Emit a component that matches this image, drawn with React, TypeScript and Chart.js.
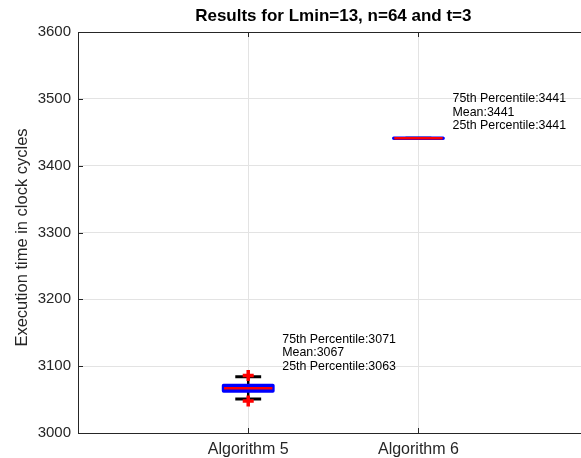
import React, { useEffect, useRef } from 'react';
import { Chart, registerables } from 'chart.js';

Chart.register(...registerables);

const TITLE = 'Results for Lmin=13, n=64 and t=3';
const Y_TITLE = 'Execution time in clock cycles';
const categories = ['Algorithm 5', 'Algorithm 6'];
const positions = [1, 2];
const q1 = [3063, 3441];
const medians = [3067, 3441];
const q3 = [3071, 3441];
const whiskerLow = [3051, 3441];
const whiskerHigh = [3084, 3441];
const means = [3067, 3441];
const outlierValues = [[3048, 3086], []];
const labelAnchors = [3120, 3480];
const yTicks = [3000, 3100, 3200, 3300, 3400, 3500, 3600];

const FONT = "'Liberation Sans', Arial, Helvetica, sans-serif";
const AXIS = '#262626';
const X_MIN = 0;
const X_MAX_FULL = 3;
const X_MAX_VISIBLE = 2.955;

const boxPlugin = {
  id: 'boxes',
  beforeDatasetsDraw(chart: any) {
    const { ctx, scales } = chart;
    const x = scales.x;
    const y = scales.y;
    ctx.save();
    positions.forEach((p, i) => {
      const cx = x.getPixelForValue(p);
      const hw = x.getPixelForValue(p + 0.145) - cx;
      const cw = x.getPixelForValue(p + 0.076) - cx;
      const yq1 = y.getPixelForValue(q1[i]);
      const yq3 = y.getPixelForValue(q3[i]);
      const ylo = y.getPixelForValue(whiskerLow[i]);
      const yhi = y.getPixelForValue(whiskerHigh[i]);
      const ymed = y.getPixelForValue(medians[i]);
      ctx.strokeStyle = '#000';
      ctx.lineCap = 'butt';
      ctx.lineWidth = 2.5;
      ctx.beginPath();
      ctx.moveTo(cx, yq3);
      ctx.lineTo(cx, yhi);
      ctx.moveTo(cx, yq1);
      ctx.lineTo(cx, ylo);
      ctx.stroke();
      ctx.lineWidth = 3;
      ctx.beginPath();
      ctx.moveTo(cx - cw, yhi);
      ctx.lineTo(cx + cw, yhi);
      ctx.moveTo(cx - cw, ylo);
      ctx.lineTo(cx + cw, ylo);
      ctx.stroke();
      ctx.lineJoin = 'round';
      ctx.fillStyle = '#0000ff';
      ctx.strokeStyle = '#0000ff';
      ctx.lineWidth = 3.5;
      ctx.beginPath();
      ctx.rect(cx - hw, yq3, 2 * hw, yq1 - yq3);
      ctx.fill();
      ctx.stroke();
      ctx.strokeStyle = '#ff0000';
      ctx.lineWidth = 2.6;
      ctx.beginPath();
      ctx.moveTo(cx - hw + 0.5, ymed);
      ctx.lineTo(cx + hw - 0.5, ymed);
      ctx.stroke();
    });
    ctx.restore();
  },
  afterDraw(chart: any) {
    const { ctx, scales, chartArea } = chart;
    const x = scales.x;
    const y = scales.y;
    ctx.save();
    const titleX = (x.getPixelForValue(X_MIN) + x.getPixelForValue(X_MAX_FULL)) / 2;
    ctx.fillStyle = '#000';
    ctx.font = `bold 17px ${FONT}`;
    ctx.textAlign = 'center';
    ctx.textBaseline = 'middle';
    ctx.fillText(TITLE, titleX, 16.5);
    ctx.save();
    ctx.fillStyle = AXIS;
    ctx.font = `16.5px ${FONT}`;
    ctx.translate(22, (chartArea.top + chartArea.bottom) / 2 + 5);
    ctx.rotate(-Math.PI / 2);
    ctx.fillText(Y_TITLE, 0, 0);
    ctx.restore();
    ctx.strokeStyle = AXIS;
    ctx.lineWidth = 1;
    ctx.beginPath();
    ctx.moveTo(chartArea.left, chartArea.top + 0.5);
    ctx.lineTo(chartArea.right, chartArea.top + 0.5);
    const tl = 5;
    yTicks.forEach((v) => {
      const py = Math.round(y.getPixelForValue(v)) + 0.5;
      ctx.moveTo(chartArea.left, py);
      ctx.lineTo(chartArea.left + tl, py);
    });
    positions.forEach((p) => {
      const px = Math.round(x.getPixelForValue(p)) + 0.5;
      ctx.moveTo(px, chartArea.bottom);
      ctx.lineTo(px, chartArea.bottom - tl);
      ctx.moveTo(px, chartArea.top);
      ctx.lineTo(px, chartArea.top + tl);
    });
    ctx.stroke();
    ctx.fillStyle = '#000';
    ctx.font = `12.4px ${FONT}`;
    ctx.textAlign = 'left';
    ctx.textBaseline = 'middle';
    positions.forEach((p, i) => {
      const tx = x.getPixelForValue(p + 0.2);
      const ty = y.getPixelForValue(labelAnchors[i]);
      const lines = [
        `75th Percentile:${q3[i]}`,
        `Mean:${means[i]}`,
        `25th Percentile:${q1[i]}`,
      ];
      lines.forEach((t, k) => ctx.fillText(t, tx, ty + (k - 1) * 13.5));
    });
    ctx.restore();
  },
};

export default function App() {
  const ref = useRef<HTMLCanvasElement>(null);
  useEffect(() => {
    if (!ref.current) return;
    const outlierPoints: { x: number; y: number }[] = [];
    outlierValues.forEach((arr, i) => arr.forEach((v) => outlierPoints.push({ x: positions[i], y: v })));
    const chart = new Chart(ref.current, {
      type: 'scatter',
      data: {
        datasets: [
          {
            label: 'Outliers',
            data: outlierPoints,
            pointStyle: 'cross',
            radius: 5.5,
            borderColor: '#ff0000',
            backgroundColor: '#ff0000',
            borderWidth: 3.5,
          } as any,
        ],
      },
      options: {
        responsive: false,
        animation: false,
        layout: { autoPadding: false, padding: { left: 0, right: 0, top: 32, bottom: 0 } },
        plugins: {
          legend: { display: false },
          tooltip: { enabled: false },
          title: { display: false },
        },
        scales: {
          x: {
            type: 'linear',
            min: X_MIN,
            max: X_MAX_VISIBLE,
            afterBuildTicks: (s: any) => {
              s.ticks = positions.map((v) => ({ value: v }));
            },
            afterFit: (s: any) => {
              s.height = 25;
            },
            ticks: {
              color: AXIS,
              font: { family: FONT, size: 16 },
              padding: 7,
              maxRotation: 0,
              callback: (v: any) => {
                const idx = positions.indexOf(Number(v));
                return idx >= 0 ? categories[idx] : '';
              },
            },
            grid: { color: '#e3e3e3', drawTicks: false },
            border: { display: true, color: AXIS, width: 1 },
          },
          y: {
            type: 'linear',
            min: 3000,
            max: 3600,
            afterBuildTicks: (s: any) => {
              s.ticks = yTicks.map((v) => ({ value: v }));
            },
            afterFit: (s: any) => {
              s.width = 78;
            },
            ticks: {
              color: AXIS,
              font: { family: FONT, size: 15 },
              padding: 7,
              callback: (v: any) => String(v),
            },
            grid: { color: '#e3e3e3', drawTicks: false },
            border: { display: true, color: AXIS, width: 1 },
          },
        },
      },
      plugins: [boxPlugin],
    });
    return () => chart.destroy();
  }, []);
  return (
    <div style={{ position: 'absolute', left: 0, top: 0, width: 581, height: 458, overflow: 'hidden', background: '#fff' }}>
      <canvas ref={ref} width={581} height={458} style={{ display: 'block', width: 581, height: 458 }} />
    </div>
  );
}
